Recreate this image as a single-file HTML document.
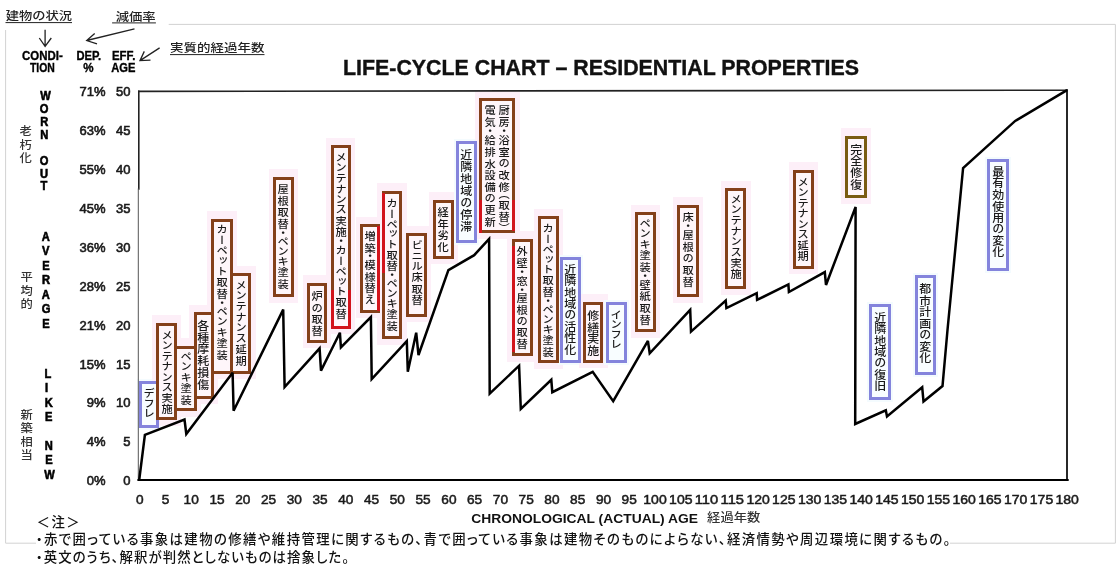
<!DOCTYPE html>
<html lang="ja"><head><meta charset="utf-8"><title>LIFE-CYCLE CHART - RESIDENTIAL PROPERTIES</title>
<style>
html,body{margin:0;padding:0;background:#fff;}
body{width:1120px;height:565px;position:relative;overflow:hidden;font-family:"Liberation Sans","IPAGothic","Noto Sans CJK JP",sans-serif;}
svg{position:absolute;left:0;top:0;}
.b{position:absolute;box-sizing:border-box;border:3px solid;background:#fef6fa;}
.bb{background:#f8fdff;}
.h{position:absolute;background:#fdeff8;}
.hb{background:#f4fbfe;}
.rd{position:absolute;background:#d2141c;}
.v{position:absolute;writing-mode:vertical-rl;white-space:nowrap;font-family:"Liberation Sans","Noto Sans CJK JP",sans-serif;font-feature-settings:"vpal";font-weight:500;transform:scaleX(1.07);}
.jp{font-family:"Liberation Sans","Noto Sans CJK JP",sans-serif;font-weight:500;}
.nt{font-family:"Liberation Sans","Noto Sans CJK JP",sans-serif;font-feature-settings:"palt";font-weight:500;}
.en{font-family:"Liberation Sans",sans-serif;}
</style></head><body>

<div class="h hb" style="left:136.7px;top:379.0px;width:24.2px;height:50.5px"></div>
<div class="h" style="left:151.6px;top:315.3px;width:29.9px;height:110.6px"></div>
<div class="h" style="left:169.9px;top:338.4px;width:31.0px;height:78.6px"></div>
<div class="h" style="left:189.3px;top:304.6px;width:29.1px;height:99.8px"></div>
<div class="h" style="left:206.8px;top:211.3px;width:30.4px;height:168.0px"></div>
<div class="h" style="left:225.6px;top:265.5px;width:30.1px;height:113.8px"></div>
<div class="h" style="left:268.5px;top:169.0px;width:29.9px;height:133.9px"></div>
<div class="h" style="left:302.5px;top:275.3px;width:28.8px;height:73.2px"></div>
<div class="h" style="left:326.3px;top:137.9px;width:29.1px;height:196.4px"></div>
<div class="h" style="left:355.5px;top:216.7px;width:28.8px;height:101.4px"></div>
<div class="h" style="left:377.2px;top:183.2px;width:29.5px;height:161.6px"></div>
<div class="h" style="left:401.9px;top:225.9px;width:29.5px;height:96.6px"></div>
<div class="h" style="left:428.5px;top:192.0px;width:29.6px;height:72.1px"></div>
<div class="h hb" style="left:453.7px;top:139.0px;width:25.5px;height:105.7px"></div>
<div class="h" style="left:507.3px;top:231.3px;width:29.8px;height:130.4px"></div>
<div class="h" style="left:533.6px;top:208.7px;width:29.3px;height:160.2px"></div>
<div class="h hb" style="left:558.4px;top:254.6px;width:24.8px;height:110.0px"></div>
<div class="h" style="left:578.6px;top:294.3px;width:29.2px;height:73.8px"></div>
<div class="h hb" style="left:603.9px;top:299.6px;width:24.8px;height:65.0px"></div>
<div class="h" style="left:630.5px;top:204.5px;width:29.5px;height:133.3px"></div>
<div class="h" style="left:672.9px;top:197.0px;width:30.3px;height:105.9px"></div>
<div class="h" style="left:720.9px;top:180.7px;width:29.9px;height:114.2px"></div>
<div class="h" style="left:788.6px;top:162.3px;width:29.7px;height:111.8px"></div>
<div class="h" style="left:840.7px;top:128.0px;width:30.7px;height:75.9px"></div>
<div class="h hb" style="left:867.4px;top:302.2px;width:25.6px;height:99.4px"></div>
<div class="h hb" style="left:912.8px;top:273.0px;width:25.6px;height:103.6px"></div>
<div class="h hb" style="left:985.1px;top:156.5px;width:25.7px;height:116.2px"></div>
<div class="h" style="left:475.1px;top:90.1px;width:44.5px;height:148.7px"></div>
<svg width="1120" height="565" viewBox="0 0 1120 565">
<g stroke="#d2d2d2" stroke-width="1" fill="none">
<path d="M168.7 24.4H1115.4V543.2H950"/><path d="M36 543.2H5.6V30"/>
</g>
<g fill="none" stroke-linecap="square">
<path d="M138.8 91.4L1067 90.2" stroke="#222" stroke-width="1.6"/>
<path d="M1067 90.2V480" stroke="#111" stroke-width="1.8"/>
<path d="M138.8 91.4V189" stroke="#222" stroke-width="1.6"/>
<path d="M138.3 189V480" stroke="#555" stroke-width="1"/>
<path d="M138.5 480H1067.6" stroke="#000" stroke-width="2.2"/>
</g>
</svg>
<div class="b bb" style="left:138.7px;top:381.0px;width:20.2px;height:46.5px;border-color:#8484dc"></div>
<div class="b" style="left:155.9px;top:322.8px;width:21.3px;height:97.6px;border-color:#84401a"></div>
<div class="b" style="left:174.2px;top:345.9px;width:22.4px;height:65.6px;border-color:#84401a"></div>
<div class="b" style="left:193.6px;top:312.1px;width:20.5px;height:86.8px;border-color:#84401a"></div>
<div class="b" style="left:211.1px;top:218.8px;width:21.8px;height:155.0px;border-color:#84401a"></div>
<div class="b" style="left:229.9px;top:273.0px;width:21.5px;height:100.8px;border-color:#84401a"></div>
<div class="b" style="left:272.8px;top:176.5px;width:21.3px;height:120.9px;border-color:#84401a"></div>
<div class="b" style="left:306.8px;top:282.8px;width:20.2px;height:60.2px;border-color:#84401a"></div>
<div class="b" style="left:330.6px;top:145.4px;width:20.5px;height:183.4px;border-color:#84401a"></div>
<div class="b" style="left:359.8px;top:224.2px;width:20.2px;height:88.4px;border-color:#84401a"></div>
<div class="b" style="left:381.5px;top:190.7px;width:20.9px;height:148.6px;border-color:#84401a"></div>
<div class="b" style="left:406.2px;top:233.4px;width:20.9px;height:83.6px;border-color:#84401a"></div>
<div class="b" style="left:432.8px;top:199.5px;width:21.0px;height:59.1px;border-color:#84401a"></div>
<div class="b bb" style="left:455.7px;top:141.0px;width:21.5px;height:101.7px;border-color:#8484dc"></div>
<div class="b" style="left:511.6px;top:238.8px;width:21.2px;height:117.4px;border-color:#84401a"></div>
<div class="b" style="left:537.9px;top:216.2px;width:20.7px;height:147.2px;border-color:#84401a"></div>
<div class="b bb" style="left:560.4px;top:256.6px;width:20.8px;height:106.0px;border-color:#8484dc"></div>
<div class="b" style="left:582.9px;top:301.8px;width:20.6px;height:60.8px;border-color:#84401a"></div>
<div class="b bb" style="left:605.9px;top:301.6px;width:20.8px;height:61.0px;border-color:#8484dc"></div>
<div class="b" style="left:634.8px;top:212.0px;width:20.9px;height:120.3px;border-color:#84401a"></div>
<div class="b" style="left:677.2px;top:204.5px;width:21.7px;height:92.9px;border-color:#84401a"></div>
<div class="b" style="left:725.2px;top:188.2px;width:21.3px;height:101.2px;border-color:#84401a"></div>
<div class="b" style="left:792.9px;top:169.8px;width:21.1px;height:98.8px;border-color:#84401a"></div>
<div class="b" style="left:845.0px;top:135.5px;width:22.1px;height:62.9px;border-color:#7a5c12"></div>
<div class="b bb" style="left:869.4px;top:304.2px;width:21.6px;height:95.4px;border-color:#8484dc"></div>
<div class="b bb" style="left:914.8px;top:275.0px;width:21.6px;height:99.6px;border-color:#8484dc"></div>
<div class="b bb" style="left:987.1px;top:158.5px;width:21.7px;height:112.2px;border-color:#8484dc"></div>
<div class="b" style="left:479.4px;top:97.6px;width:35.9px;height:135.7px;border-color:#84401a"></div>
<div class="rd" style="left:479.4px;top:200px;width:3px;height:33.3px"></div>
<div class="rd" style="left:512.3px;top:200px;width:3px;height:31px"></div>
<div class="rd" style="left:511.6px;top:246px;width:3px;height:106px"></div>
<div class="rd" style="left:377.0px;top:226px;width:3px;height:85px"></div>
<div class="rd" style="left:381.5px;top:193px;width:3px;height:80px"></div>
<div class="rd" style="left:330.6px;top:290px;width:3px;height:38.8px"></div>
<div class="rd" style="left:348.1px;top:290px;width:3px;height:38.8px"></div>
<div class="rd" style="left:330.6px;top:325.8px;width:20.5px;height:3px"></div>
<svg width="1120" height="565" viewBox="0 0 1120 565"><path d="M139.2 480.0 L144.9 434.8 L184.5 419.6 L186.3 434.0 L232.6 372.8 L233.6 410.8 L283.2 309.6 L284.6 387.0 L319.6 348.4 L321.0 370.6 L339.9 332.7 L340.9 347.5 L370.9 317.1 L371.7 379.1 L406.8 341.2 L407.8 371.7 L416.2 332.7 L418.5 355.0 L448.4 270.1 L474.2 255.2 L489.1 239.0 L489.7 393.7 L519.1 365.7 L520.8 409.0 L551.3 379.8 L552.3 392.2 L592.7 371.9 L613.2 401.1 L647.9 340.9 L649.7 353.3 L690.2 309.8 L691.0 331.6 L725.7 300.6 L726.4 308.1 L756.7 293.2 L757.1 299.9 L788.4 284.5 L788.9 292.0 L824.8 272.1 L826.0 285.0 L855.6 207.0 L855.2 424.0 L885.8 410.3 L887.0 416.5 L922.2 387.3 L923.5 401.5 L942.5 386.0 L947.5 330.0 L963.1 168.0 L1015.2 120.9 L1067.0 90.2" fill="none" stroke="#000" stroke-width="2.5" stroke-linejoin="miter" stroke-miterlimit="3"/></svg>
<div class="v" style="left:142.75px;top:387.58px;font-size:10.5px;line-height:10.5px;width:10.5px;letter-spacing:-0.080px;color:#1a1a1a">デフレ</div>
<div class="v" style="left:160.50px;top:329.58px;font-size:10.5px;line-height:10.5px;width:10.5px;letter-spacing:0.977px;color:#1a1a1a">メンテナンス実施</div>
<div class="v" style="left:179.75px;top:352.08px;font-size:10.5px;line-height:10.5px;width:10.5px;letter-spacing:1.085px;color:#1a1a1a">ペンキ塗装</div>
<div class="v" style="left:196.15px;top:319.55px;font-size:11.2px;line-height:11.2px;width:11.2px;letter-spacing:0.539px;color:#1a1a1a">各種摩耗損傷</div>
<div class="v" style="left:215.75px;top:223.58px;font-size:10.5px;line-height:10.5px;width:10.5px;letter-spacing:1.237px;color:#1a1a1a">カーペット取替・ペンキ塗装</div>
<div class="v" style="left:235.00px;top:279.58px;font-size:10.5px;line-height:10.5px;width:10.5px;letter-spacing:1.191px;color:#1a1a1a">メンテナンス延期</div>
<div class="v" style="left:277.00px;top:183.58px;font-size:10.5px;line-height:10.5px;width:10.5px;letter-spacing:1.038px;color:#1a1a1a">屋根取替・ペンキ塗装</div>
<div class="v" style="left:311.25px;top:290.58px;font-size:10.5px;line-height:10.5px;width:10.5px;letter-spacing:1.280px;color:#1a1a1a">炉の取替</div>
<div class="v" style="left:335.00px;top:152.08px;font-size:10.5px;line-height:10.5px;width:10.5px;letter-spacing:1.089px;color:#1a1a1a">メンテナンス実施・カーペット取替</div>
<div class="v" style="left:364.25px;top:230.58px;font-size:10.5px;line-height:10.5px;width:10.5px;letter-spacing:0.890px;color:#1a1a1a">増築・模様替え</div>
<div class="v" style="left:385.50px;top:197.58px;font-size:10.5px;line-height:10.5px;width:10.5px;letter-spacing:0.987px;color:#1a1a1a">カーペット取替・ペンキ塗装</div>
<div class="v" style="left:411.00px;top:239.58px;font-size:10.5px;line-height:10.5px;width:10.5px;letter-spacing:0.668px;color:#1a1a1a">ビニル床取替</div>
<div class="v" style="left:437.25px;top:206.58px;font-size:10.5px;line-height:10.5px;width:10.5px;letter-spacing:0.947px;color:#1a1a1a">経年劣化</div>
<div class="v" style="left:459.15px;top:149.05px;font-size:11.2px;line-height:11.2px;width:11.2px;letter-spacing:0.916px;color:#1a1a1a">近隣地域の停滞</div>
<div class="v" style="left:515.75px;top:246.08px;font-size:10.5px;line-height:10.5px;width:10.5px;letter-spacing:1.038px;color:#1a1a1a">外壁・窓・屋根の取替</div>
<div class="v" style="left:542.00px;top:222.58px;font-size:10.5px;line-height:10.5px;width:10.5px;letter-spacing:1.070px;color:#1a1a1a">カーペット取替・ペンキ塗装</div>
<div class="v" style="left:562.90px;top:264.05px;font-size:11.2px;line-height:11.2px;width:11.2px;letter-spacing:0.328px;color:#1a1a1a">近隣地域の活性化</div>
<div class="v" style="left:585.90px;top:309.55px;font-size:11.2px;line-height:11.2px;width:11.2px;letter-spacing:0.532px;color:#1a1a1a">修繕実施</div>
<div class="v" style="left:610.25px;top:309.58px;font-size:10.5px;line-height:10.5px;width:10.5px;letter-spacing:0.280px;color:#1a1a1a">インフレ</div>
<div class="v" style="left:639.00px;top:218.58px;font-size:10.5px;line-height:10.5px;width:10.5px;letter-spacing:1.093px;color:#1a1a1a">ペンキ塗装・壁紙取替</div>
<div class="v" style="left:682.00px;top:212.08px;font-size:10.5px;line-height:10.5px;width:10.5px;letter-spacing:1.223px;color:#1a1a1a">床・屋根の取替</div>
<div class="v" style="left:730.00px;top:194.08px;font-size:10.5px;line-height:10.5px;width:10.5px;letter-spacing:1.120px;color:#1a1a1a">メンテナンス実施</div>
<div class="v" style="left:797.00px;top:176.58px;font-size:10.5px;line-height:10.5px;width:10.5px;letter-spacing:0.977px;color:#1a1a1a">メンテナンス延期</div>
<div class="v" style="left:848.65px;top:143.55px;font-size:11.2px;line-height:11.2px;width:11.2px;letter-spacing:0.365px;color:#1a1a1a">完全修復</div>
<div class="v" style="left:872.90px;top:312.05px;font-size:11.2px;line-height:11.2px;width:11.2px;letter-spacing:0.333px;color:#1a1a1a">近隣地域の復旧</div>
<div class="v" style="left:917.90px;top:282.55px;font-size:11.2px;line-height:11.2px;width:11.2px;letter-spacing:0.499px;color:#1a1a1a">都市計画の変化</div>
<div class="v" style="left:990.65px;top:165.55px;font-size:11.2px;line-height:11.2px;width:11.2px;letter-spacing:0.399px;color:#1a1a1a">最有効使用の変化</div>
<div class="v" style="left:497.75px;top:105.08px;font-size:10.5px;line-height:10.5px;width:10.5px;letter-spacing:1.258px;color:#1a1a1a">厨房・浴室の改修（取替）</div>
<div class="v" style="left:484.25px;top:105.08px;font-size:10.5px;line-height:10.5px;width:10.5px;letter-spacing:1.234px;color:#1a1a1a">電気・給排水設備の更新</div>
<div class="v" style="left:18.25px;top:124.54px;font-size:11.5px;line-height:11.5px;width:11.5px;letter-spacing:1.960px;color:#333">老朽化</div>
<div class="v" style="left:18.75px;top:270.54px;font-size:11.5px;line-height:11.5px;width:11.5px;letter-spacing:1.960px;color:#333">平均的</div>
<div class="v" style="left:18.75px;top:409.04px;font-size:11.5px;line-height:11.5px;width:11.5px;letter-spacing:1.807px;color:#333">新築相当</div>
<svg width="1120" height="565" viewBox="0 0 1120 565">
<g class="jp" fill="#222" font-size="11.4">
<text x="5.8" y="20.3" textLength="66.3" lengthAdjust="spacingAndGlyphs">建物の状況</text>
<text x="115.7" y="20.5" textLength="40" lengthAdjust="spacingAndGlyphs">減価率</text>
<text x="170.1" y="52.4" font-size="11.8" textLength="94.3" lengthAdjust="spacingAndGlyphs">実質的経過年数</text>
</g>
<g stroke="#222" stroke-width="1" fill="none">
<path d="M5.5 22.6H72"/><path d="M112.1 22.9H155.9"/><path d="M170 54.6H264.5"/>
<path d="M45.1 29.7V46.4M39.3 38L45.1 46.4L51.3 38" stroke-width="1.3"/>
<path d="M134.5 28.9L86.7 40.5M94.7 33.4L86.7 40.5L97 43.9" stroke-width="1.3"/>
<path d="M159.6 47.9L140 60.6M144.3 51.4L140 60.6L150.5 60.2" stroke-width="1.3"/>
</g>
<g class="en" font-weight="bold" font-size="12.3" fill="#000" stroke="#000" stroke-width="0.35" lengthAdjust="spacingAndGlyphs">
<text x="22.1" y="59.9" textLength="40.7" lengthAdjust="spacingAndGlyphs">CONDI-</text>
<text x="30.0" y="72.3" textLength="24.9" lengthAdjust="spacingAndGlyphs">TION</text>
<text x="76.5" y="59.9" textLength="24.7" lengthAdjust="spacingAndGlyphs">DEP.</text>
<text x="83.2" y="72.3" textLength="10.3" lengthAdjust="spacingAndGlyphs">%</text>
<text x="111.9" y="59.9" textLength="23.5" lengthAdjust="spacingAndGlyphs">EFF.</text>
<text x="111.2" y="72.3" textLength="24.2" lengthAdjust="spacingAndGlyphs">AGE</text>
</g>
<text class="en" x="343" y="75" font-weight="bold" font-size="22.8" textLength="516" lengthAdjust="spacingAndGlyphs" fill="#111" stroke="#111" stroke-width="0.4">LIFE-CYCLE CHART – RESIDENTIAL PROPERTIES</text>
<g class="en" font-size="13" fill="#1a1a1a" stroke="#1a1a1a" stroke-width="0.6" text-anchor="end">
<text x="105.6" y="96.2">71%</text><text x="130.5" y="96.2">50</text>
<text x="105.6" y="135.1">63%</text><text x="130.5" y="135.1">45</text>
<text x="105.6" y="174.0">55%</text><text x="130.5" y="174.0">40</text>
<text x="105.6" y="212.9">45%</text><text x="130.5" y="212.9">35</text>
<text x="105.6" y="251.8">36%</text><text x="130.5" y="251.8">30</text>
<text x="105.6" y="290.7">28%</text><text x="130.5" y="290.7">25</text>
<text x="105.6" y="329.6">21%</text><text x="130.5" y="329.6">20</text>
<text x="105.6" y="368.5">15%</text><text x="130.5" y="368.5">15</text>
<text x="105.6" y="407.4">9%</text><text x="130.5" y="407.4">10</text>
<text x="105.6" y="446.3">4%</text><text x="130.5" y="446.3">5</text>
<text x="105.6" y="485.2">0%</text><text x="130.5" y="485.2">0</text>
</g>
<g class="en" font-size="13" fill="#1a1a1a" stroke="#1a1a1a" stroke-width="0.5" text-anchor="middle">
<text x="139.7" y="503.6" textLength="7.6" lengthAdjust="spacingAndGlyphs">0</text>
<text x="165.5" y="503.6" textLength="7.6" lengthAdjust="spacingAndGlyphs">5</text>
<text x="191.2" y="503.6" textLength="15.2" lengthAdjust="spacingAndGlyphs">10</text>
<text x="217.0" y="503.6" textLength="15.2" lengthAdjust="spacingAndGlyphs">15</text>
<text x="242.8" y="503.6" textLength="15.2" lengthAdjust="spacingAndGlyphs">20</text>
<text x="268.5" y="503.6" textLength="15.2" lengthAdjust="spacingAndGlyphs">25</text>
<text x="294.3" y="503.6" textLength="15.2" lengthAdjust="spacingAndGlyphs">30</text>
<text x="320.1" y="503.6" textLength="15.2" lengthAdjust="spacingAndGlyphs">35</text>
<text x="345.8" y="503.6" textLength="15.2" lengthAdjust="spacingAndGlyphs">40</text>
<text x="371.6" y="503.6" textLength="15.2" lengthAdjust="spacingAndGlyphs">45</text>
<text x="397.3" y="503.6" textLength="15.2" lengthAdjust="spacingAndGlyphs">50</text>
<text x="423.1" y="503.6" textLength="15.2" lengthAdjust="spacingAndGlyphs">55</text>
<text x="448.9" y="503.6" textLength="15.2" lengthAdjust="spacingAndGlyphs">60</text>
<text x="474.6" y="503.6" textLength="15.2" lengthAdjust="spacingAndGlyphs">65</text>
<text x="500.4" y="503.6" textLength="15.2" lengthAdjust="spacingAndGlyphs">70</text>
<text x="526.2" y="503.6" textLength="15.2" lengthAdjust="spacingAndGlyphs">75</text>
<text x="551.9" y="503.6" textLength="15.2" lengthAdjust="spacingAndGlyphs">80</text>
<text x="577.7" y="503.6" textLength="15.2" lengthAdjust="spacingAndGlyphs">85</text>
<text x="603.5" y="503.6" textLength="15.2" lengthAdjust="spacingAndGlyphs">90</text>
<text x="629.2" y="503.6" textLength="15.2" lengthAdjust="spacingAndGlyphs">95</text>
<text x="655.0" y="503.6" textLength="23.4" lengthAdjust="spacingAndGlyphs">100</text>
<text x="680.8" y="503.6" textLength="23.4" lengthAdjust="spacingAndGlyphs">105</text>
<text x="706.5" y="503.6" textLength="23.4" lengthAdjust="spacingAndGlyphs">110</text>
<text x="732.3" y="503.6" textLength="23.4" lengthAdjust="spacingAndGlyphs">115</text>
<text x="758.1" y="503.6" textLength="23.4" lengthAdjust="spacingAndGlyphs">120</text>
<text x="783.8" y="503.6" textLength="23.4" lengthAdjust="spacingAndGlyphs">125</text>
<text x="809.6" y="503.6" textLength="23.4" lengthAdjust="spacingAndGlyphs">130</text>
<text x="835.4" y="503.6" textLength="23.4" lengthAdjust="spacingAndGlyphs">135</text>
<text x="861.1" y="503.6" textLength="23.4" lengthAdjust="spacingAndGlyphs">140</text>
<text x="886.9" y="503.6" textLength="23.4" lengthAdjust="spacingAndGlyphs">145</text>
<text x="912.6" y="503.6" textLength="23.4" lengthAdjust="spacingAndGlyphs">150</text>
<text x="938.4" y="503.6" textLength="23.4" lengthAdjust="spacingAndGlyphs">155</text>
<text x="964.2" y="503.6" textLength="23.4" lengthAdjust="spacingAndGlyphs">160</text>
<text x="989.9" y="503.6" textLength="23.4" lengthAdjust="spacingAndGlyphs">165</text>
<text x="1015.7" y="503.6" textLength="23.4" lengthAdjust="spacingAndGlyphs">170</text>
<text x="1041.5" y="503.6" textLength="23.4" lengthAdjust="spacingAndGlyphs">175</text>
<text x="1067.2" y="503.6" textLength="23.4" lengthAdjust="spacingAndGlyphs">180</text>
</g>
<text class="en" x="471.3" y="523" font-weight="bold" font-size="13" textLength="226.7" lengthAdjust="spacingAndGlyphs" fill="#111">CHRONOLOGICAL (ACTUAL) AGE</text>
<text class="jp" x="707.1" y="522.3" font-size="12" textLength="53.2" lengthAdjust="spacingAndGlyphs" fill="#333">経過年数</text>
<text class="en" transform="scale(0.9,1)" x="50.56 49.00 49.33 49.11 49.11 49.00 49.00 48.78" y="100.5 113.3 126.2 139.0 151.8 164.7 177.6 190.4" text-anchor="middle" font-weight="bold" font-size="12.4" fill="#000" stroke="#000" stroke-width="0.6">WORN OUT</text>
<text class="en" transform="scale(0.9,1)" x="50.78 50.89 51.11 51.11 50.78 51.33 51.11" y="241.0 255.5 270.0 284.5 299.0 313.5 328.0" text-anchor="middle" font-weight="bold" font-size="12.4" fill="#000" stroke="#000" stroke-width="0.6">AVERAGE</text>
<text class="en" transform="scale(0.9,1)" x="53.11 51.78 54.11 54.11 54.22 54.33 54.33 55.00" y="378.1 392.5 406.8 421.2 435.5 449.9 464.2 478.6" text-anchor="middle" font-weight="bold" font-size="12.4" fill="#000" stroke="#000" stroke-width="0.6">LIKE NEW</text>
<rect x="36" y="531" width="914" height="34" fill="#fff"/>
<g class="nt" font-size="13.4" fill="#111">
<text x="36.6" y="526.5" style="font-feature-settings:normal;letter-spacing:1.4px">＜注＞</text>
<text x="35.9" y="544.2" textLength="914.5" lengthAdjust="spacing">・赤で囲っている事象は建物の修繕や維持管理に関するもの、青で囲っている事象は建物そのものによらない、経済情勢や周辺環境に関するもの。</text>
<text x="35.9" y="561.9" textLength="313.1" lengthAdjust="spacing">・英文のうち、解釈が判然としないものは捨象した。</text>
</g>
</svg>
</body></html>
